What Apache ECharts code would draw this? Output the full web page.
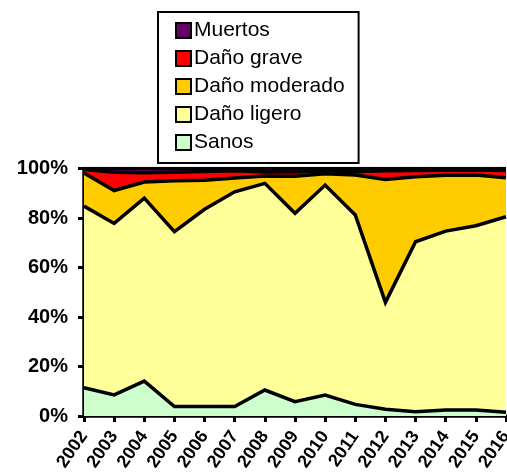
<!DOCTYPE html>
<html><head><meta charset="utf-8">
<script src="https://cdn.jsdelivr.net/npm/echarts@6/dist/echarts.min.js"></script>
<style>html,body{margin:0;padding:0;background:#fff}#c{width:507px;height:472px}</style>
</head><body><div id="c"></div>
<script>
const years = ['2002','2003','2004','2005','2006','2007','2008','2009','2010','2011','2012','2013','2014','2015','2016'];
const sanos    = [11.4, 8.5, 14.1, 3.8, 3.8, 3.8, 10.5, 5.8, 8.5, 4.7, 2.7, 1.7, 2.4, 2.4, 1.5];
const ligero   = [73.4, 69.3, 73.9, 70.7, 79.7, 86.8, 83.5, 76.1, 84.8, 76.5, 43.2, 68.7, 72.3, 74.5, 79.0];
const moderado = [13.4, 13.3, 6.5, 20.6, 11.8, 5.6, 3.0, 15.0, 4.6, 16.2, 49.7, 26.3, 22.6, 20.5, 15.8];
const grave    = [1.4, 7.4, 3.8, 3.4, 3.5, 2.9, 1.6, 1.7, 1.2, 1.3, 3.5, 2.5, 2.0, 2.0, 2.9];
const muertos  = [0.4, 1.5, 1.7, 1.5, 1.2, 0.9, 1.4, 1.4, 0.9, 1.3, 0.9, 0.8, 0.7, 0.6, 0.8];
const yTicks = [0, 20, 40, 60, 80, 100];

const layers = [
  {name: 'Sanos', data: sanos, color: '#CCFFCC'},
  {name: 'Daño ligero', data: ligero, color: '#FFFF99'},
  {name: 'Daño moderado', data: moderado, color: '#FFCC00'},
  {name: 'Daño grave', data: grave, color: '#FF0000'},
  {name: 'Muertos', data: muertos, color: '#660066'}
];

const series = [];
layers.forEach(l => {
  series.push({
    name: l.name, type: 'line', stack: 'area', data: l.data,
    symbol: 'none', smooth: false,
    itemStyle: {color: l.color},
    lineStyle: {width: 0, color: l.color},
    areaStyle: {color: l.color, opacity: 1},
    z: 2, silent: true
  });
});
layers.forEach(l => {
  series.push({
    name: l.name + ' (borde)', type: 'line', stack: 'lines', data: l.data,
    symbol: 'none',
    lineStyle: {width: 3.5, color: '#000', join: 'miter'},
    z: 3, silent: true
  });
});

const chart = echarts.init(document.getElementById('c'), null, {renderer: 'canvas'});
chart.setOption({
  animation: false,
  backgroundColor: '#fff',
  textStyle: {fontFamily: 'Liberation Sans, Arial, sans-serif', color: '#000'},
  legend: {
    data: ['Muertos', 'Daño grave', 'Daño moderado', 'Daño ligero', 'Sanos'],
    orient: 'vertical',
    left: 158, top: 12,
    padding: [8, 14, 10, 17],
    borderColor: '#000', borderWidth: 2,
    backgroundColor: '#fff',
    icon: 'rect',
    itemWidth: 15, itemHeight: 15,
    itemGap: 7,
    itemStyle: {borderColor: '#000', borderWidth: 2},
    textStyle: {fontSize: 21, color: '#000', fontFamily: 'Liberation Sans, Arial, sans-serif', padding: [0,0,0,-2]},
    selectedMode: false
  },
  grid: {left: 84, right: 1, top: 168.5, bottom: 56, containLabel: false, outerBoundsMode: 'none'},
  xAxis: {
    type: 'category', data: years, boundaryGap: false,
    axisLine: {lineStyle: {color: '#000', width: 3.5}},
    axisTick: {alignWithLabel: true, length: 6, lineStyle: {color: '#000', width: 3}},
    axisLabel: {rotate: 55, fontSize: 18, fontWeight: 'bold', color: '#000', margin: 17, interval: 0, hideOverlap: false},
    splitLine: {show: false}
  },
  yAxis: {
    type: 'value', min: 0, max: 100, interval: 20,
    axisLine: {show: true, lineStyle: {color: '#000', width: 3.5}},
    axisTick: {show: true, length: 6, lineStyle: {color: '#000', width: 3}},
    axisLabel: {formatter: v => yTicks.includes(v) ? v + '%' : '', fontSize: 20, fontWeight: 'bold', color: '#000', margin: 16},
    splitLine: {show: false}
  },
  series: series
});
</script></body></html>
